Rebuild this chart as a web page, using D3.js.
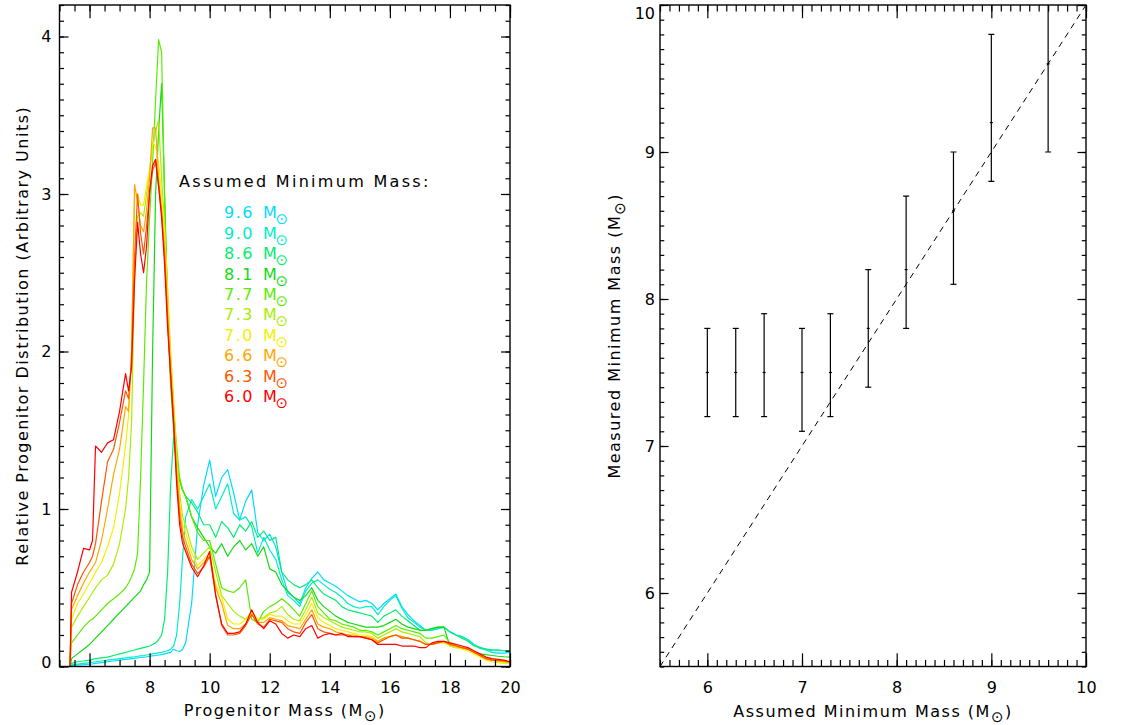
<!DOCTYPE html>
<html>
<head>
<meta charset="utf-8">
<title>Progenitor mass distributions</title>
<script src="https://cdn.jsdelivr.net/npm/d3@7"></script>
<style>
body { margin: 0; background: #fff; }
svg text { font-family: "DejaVu Sans", sans-serif; font-size: 16px; fill: #000; }
.title { letter-spacing: 1.5px; }
</style>
</head>
<body>
<svg id="chart" width="1134" height="725"></svg>
<script>

// progenitor mass grid (Msun) shared by all curves
var mass = [5.0, 5.35, 5.4, 5.6, 5.8, 6.0, 6.1, 6.2,
  6.4, 6.6, 6.8, 7.0, 7.2,
  7.3, 7.4, 7.5, 7.6, 7.7, 7.8, 7.9, 8.0, 8.1, 8.2,
  8.3, 8.4, 8.5, 8.6, 8.7, 8.8, 8.9, 9.0, 9.1, 9.2,
  9.4, 9.6, 9.8, 10.0, 10.2, 10.4, 10.6, 10.8, 11.0, 11.2,
  11.4, 11.6, 11.8, 12.0, 12.2, 12.4, 12.6, 12.8, 13.0, 13.2,
  13.4, 13.6, 13.8, 14.0, 14.2, 14.4, 14.6, 14.8, 15.0, 15.2,
  15.4, 15.6, 15.8, 16.0, 16.2, 16.4, 16.6, 16.8, 17.0, 17.2,
  17.4, 17.6, 17.8, 18.0, 18.2, 18.4, 18.6, 18.8, 19.0, 19.2,
  19.4, 19.6, 19.8, 20.0];

// assumed minimum masses, legend order (top to bottom)
var minMass = ["9.6", "9.0", "8.6", "8.1", "7.7", "7.3", "7.0", "6.6", "6.3", "6.0"];
var colors = ["#00dcff", "#00eec4", "#00ee70", "#10dc10", "#5aec00", "#aaee00", "#f4f000", "#ffa500", "#ff5500", "#ff0000"];

// relative progenitor distribution for each assumed minimum mass
var m96 = [0, 0, 0.005, 0.01, 0.012, 0.015, 0.017, 0.02,
  0.025, 0.03, 0.035, 0.04, 0.045,
  0.047, 0.05, 0.052, 0.055, 0.057, 0.06, 0.062, 0.065, 0.068, 0.07,
  0.073, 0.075, 0.08, 0.085, 0.09, 0.11, 0.10, 0.095, 0.11, 0.15,
  0.40, 0.90, 1.15, 1.31, 1.08, 1.20, 1.25, 1.10, 0.93, 1.05,
  1.12, 0.85, 0.80, 0.84, 0.76, 0.60, 0.47, 0.44, 0.40, 0.50,
  0.56, 0.60, 0.55, 0.53, 0.51, 0.48, 0.45, 0.43, 0.41, 0.42,
  0.40, 0.36, 0.40, 0.43, 0.46, 0.38, 0.33, 0.29, 0.26, 0.23,
  0.23, 0.24, 0.25, 0.22, 0.20, 0.19, 0.17, 0.14, 0.115, 0.105,
  0.09, 0.085, 0.085, 0.09];
var m90 = [0, 0, 0.01, 0.015, 0.02, 0.025, 0.028, 0.03,
  0.035, 0.04, 0.045, 0.05, 0.055,
  0.058, 0.06, 0.062, 0.065, 0.068, 0.07, 0.073, 0.076, 0.08, 0.083,
  0.087, 0.09, 0.095, 0.10, 0.11, 0.13, 0.20, 0.40, 0.70, 0.95,
  1.06, 1.00, 1.08, 1.16, 1.00, 1.08, 1.16, 0.97, 0.93, 0.95,
  0.89, 0.72, 0.82, 0.74, 0.68, 0.55, 0.45, 0.42, 0.38, 0.48,
  0.53, 0.55, 0.52, 0.49, 0.47, 0.44, 0.40, 0.38, 0.37, 0.38,
  0.38, 0.33, 0.38, 0.42, 0.45, 0.37, 0.31, 0.28, 0.25, 0.23,
  0.23, 0.24, 0.25, 0.22, 0.20, 0.19, 0.17, 0.14, 0.12, 0.11,
  0.10, 0.10, 0.10, 0.10];
var m86 = [0, 0, 0.02, 0.03, 0.035, 0.04, 0.045, 0.05,
  0.055, 0.06, 0.07, 0.08, 0.09,
  0.095, 0.10, 0.105, 0.11, 0.115, 0.12, 0.125, 0.13, 0.14, 0.15,
  0.17, 0.20, 0.30, 0.60, 1.15, 1.46, 1.30, 1.18, 1.12, 1.08,
  1.04, 0.98, 0.90, 0.90, 0.82, 0.92, 0.88, 0.82, 0.90, 0.86,
  0.92, 0.82, 0.86, 0.80, 0.82, 0.60, 0.55, 0.52, 0.50, 0.52,
  0.55, 0.50, 0.46, 0.44, 0.42, 0.38, 0.36, 0.35, 0.34, 0.33,
  0.32, 0.28, 0.32, 0.34, 0.36, 0.32, 0.29, 0.26, 0.23, 0.23,
  0.24, 0.25, 0.25, 0.22, 0.20, 0.18, 0.16, 0.13, 0.12, 0.11,
  0.105, 0.105, 0.10, 0.10];
var m81 = [0, 0, 0.05, 0.08, 0.11, 0.14, 0.16, 0.18,
  0.22, 0.26, 0.30, 0.34, 0.38,
  0.40, 0.42, 0.44, 0.46, 0.48, 0.52, 0.55, 0.60, 2.00, 3.00,
  3.40, 3.70, 3.00, 2.30, 1.80, 1.50, 1.25, 1.18, 1.12, 1.08,
  0.95, 0.88, 0.82, 0.76, 0.72, 0.78, 0.70, 0.76, 0.80, 0.74,
  0.78, 0.70, 0.76, 0.62, 0.60, 0.52, 0.48, 0.44, 0.42, 0.45,
  0.50, 0.42, 0.38, 0.35, 0.32, 0.30, 0.28, 0.27, 0.26, 0.25,
  0.25, 0.25, 0.26, 0.28, 0.30, 0.27, 0.25, 0.24, 0.23, 0.23,
  0.24, 0.25, 0.25, 0.13, 0.12, 0.12, 0.11, 0.09, 0.08, 0.075,
  0.07, 0.065, 0.062, 0.06];
var m77 = [0, 0, 0.15, 0.20, 0.25, 0.29, 0.30, 0.32,
  0.36, 0.40, 0.43, 0.46, 0.50,
  0.53, 0.57, 0.62, 0.72, 1.20, 1.80, 2.45, 2.85, 3.20, 3.60,
  3.98, 3.90, 2.95, 2.25, 1.80, 1.62, 1.40, 1.20, 1.12, 1.08,
  0.95, 0.85, 0.80, 0.80, 0.65, 0.50, 0.48, 0.47, 0.50, 0.55,
  0.30, 0.28, 0.35, 0.38, 0.40, 0.43, 0.40, 0.36, 0.32, 0.40,
  0.48, 0.38, 0.34, 0.30, 0.29, 0.27, 0.26, 0.25, 0.23, 0.23,
  0.22, 0.20, 0.22, 0.24, 0.26, 0.24, 0.23, 0.22, 0.21, 0.18,
  0.18, 0.19, 0.20, 0.15, 0.13, 0.12, 0.11, 0.09, 0.07, 0.05,
  0.04, 0.04, 0.035, 0.03];
var m73 = [0, 0, 0.25, 0.32, 0.38, 0.44, 0.47, 0.50,
  0.55, 0.58, 0.65, 0.78, 1.00,
  1.20, 1.55, 2.50, 2.86, 2.88, 2.86, 3.00, 3.15, 3.30, 3.40,
  3.47, 3.10, 2.80, 2.40, 2.00, 1.70, 1.35, 1.10, 0.95, 0.90,
  0.76, 0.68, 0.72, 0.76, 0.60, 0.45, 0.40, 0.35, 0.32, 0.30,
  0.35, 0.30, 0.31, 0.34, 0.35, 0.38, 0.33, 0.30, 0.29, 0.36,
  0.44, 0.34, 0.31, 0.29, 0.27, 0.25, 0.24, 0.23, 0.22, 0.22,
  0.21, 0.18, 0.20, 0.22, 0.24, 0.22, 0.21, 0.20, 0.19, 0.15,
  0.14, 0.15, 0.16, 0.14, 0.13, 0.12, 0.11, 0.09, 0.07, 0.05,
  0.04, 0.03, 0.03, 0.025];
var m70 = [0, 0, 0.30, 0.40, 0.46, 0.53, 0.56, 0.60,
  0.66, 0.76, 0.88, 1.10, 1.40,
  1.60, 2.00, 3.00, 3.00, 2.93, 2.93, 3.05, 3.15, 3.33, 3.30,
  3.20, 3.00, 2.75, 2.35, 1.95, 1.65, 1.30, 1.05, 0.90, 0.85,
  0.72, 0.64, 0.68, 0.72, 0.52, 0.44, 0.30, 0.27, 0.27, 0.30,
  0.34, 0.30, 0.30, 0.33, 0.32, 0.32, 0.29, 0.27, 0.27, 0.33,
  0.40, 0.31, 0.28, 0.26, 0.24, 0.23, 0.22, 0.21, 0.20, 0.20,
  0.19, 0.16, 0.18, 0.19, 0.20, 0.19, 0.18, 0.17, 0.16, 0.14,
  0.14, 0.15, 0.15, 0.13, 0.12, 0.11, 0.10, 0.08, 0.06, 0.04,
  0.03, 0.025, 0.02, 0.02];
var m66 = [0, 0, 0.36, 0.45, 0.53, 0.60, 0.63, 0.66,
  0.80, 1.00, 1.22, 1.38, 1.65,
  1.62, 2.00, 3.06, 2.95, 2.80, 2.76, 2.90, 3.10, 3.42, 3.42,
  3.10, 2.90, 2.65, 2.25, 1.90, 1.60, 1.25, 1.00, 0.86, 0.80,
  0.68, 0.62, 0.66, 0.70, 0.50, 0.40, 0.26, 0.24, 0.24, 0.27,
  0.33, 0.28, 0.28, 0.31, 0.30, 0.29, 0.26, 0.25, 0.24, 0.30,
  0.36, 0.27, 0.25, 0.24, 0.22, 0.21, 0.20, 0.20, 0.19, 0.19,
  0.18, 0.16, 0.18, 0.19, 0.20, 0.19, 0.18, 0.17, 0.16, 0.14,
  0.14, 0.15, 0.16, 0.14, 0.13, 0.12, 0.11, 0.09, 0.07, 0.05,
  0.04, 0.035, 0.03, 0.025];
var m63 = [0, 0, 0.40, 0.52, 0.60, 0.66, 0.70, 0.78,
  1.05, 1.30, 1.38, 1.55, 1.75,
  1.70, 1.95, 2.60, 3.00, 2.75, 2.62, 2.80, 3.00, 3.15, 3.20,
  3.05, 2.88, 2.60, 2.20, 1.85, 1.56, 1.20, 0.95, 0.82, 0.76,
  0.65, 0.59, 0.63, 0.70, 0.46, 0.26, 0.20, 0.20, 0.21, 0.26,
  0.33, 0.27, 0.25, 0.30, 0.29, 0.28, 0.24, 0.22, 0.21, 0.28,
  0.33, 0.24, 0.22, 0.21, 0.20, 0.20, 0.20, 0.19, 0.19, 0.18,
  0.17, 0.15, 0.17, 0.19, 0.20, 0.18, 0.18, 0.17, 0.16, 0.14,
  0.14, 0.15, 0.16, 0.14, 0.13, 0.12, 0.11, 0.09, 0.07, 0.05,
  0.04, 0.04, 0.035, 0.03];
var m60 = [0, 0, 0.47, 0.60, 0.75, 0.74, 0.80, 1.40,
  1.36, 1.42, 1.44, 1.62, 1.86,
  1.75, 1.90, 2.45, 2.82, 2.62, 2.50, 2.67, 3.02, 3.18, 3.22,
  3.05, 2.85, 2.55, 2.15, 1.85, 1.54, 1.16, 0.90, 0.78, 0.73,
  0.63, 0.57, 0.64, 0.73, 0.45, 0.27, 0.21, 0.21, 0.22, 0.27,
  0.36, 0.28, 0.24, 0.29, 0.27, 0.21, 0.18, 0.20, 0.19, 0.24,
  0.26, 0.18, 0.20, 0.21, 0.20, 0.21, 0.19, 0.19, 0.19, 0.18,
  0.17, 0.14, 0.14, 0.14, 0.14, 0.13, 0.13, 0.13, 0.12, 0.12,
  0.15, 0.16, 0.16, 0.15, 0.14, 0.13, 0.12, 0.10, 0.08, 0.06,
  0.05, 0.045, 0.04, 0.03];

// right panel: measured vs assumed minimum mass
var assumed  = [6.0, 6.3, 6.6, 7.0, 7.3, 7.7, 8.1, 8.6, 9.0, 9.6];
var measured = [7.5, 7.5, 7.5, 7.5, 7.5, 7.8, 8.2, 8.6, 9.2, 9.6];
var errLow   = [7.2, 7.2, 7.2, 7.1, 7.2, 7.4, 7.8, 8.1, 8.8, 9.0];
var errHigh  = [7.8, 7.8, 7.9, 7.8, 7.9, 8.2, 8.7, 9.0, 9.8, 10.2];
var oneToOne = [5.5, 10];

var curves = [m96, m90, m86, m81, m77, m73, m70, m66, m63, m60];
curves.forEach(function(c, i) {
  if (c.length != mass.length) console.warn("series " + minMass[i] + " has " + c.length + " points");
});

var svg = d3.select("#chart");

// box with inward ticks on all four sides, IDL style
function box(g, x, y, o) {
  var x0 = x.range()[0], x1 = x.range()[1], y0 = y.range()[0], y1 = y.range()[1];
  var xl = (y0 - y1) * 0.02, yl = (x1 - x0) * 0.02;

  var bottom = g.append("g").attr("transform", "translate(0," + y0 + ")");
  bottom.call(d3.axisBottom(x).tickValues(o.xMinor).tickSize(-xl / 2).tickFormat(""));
  bottom.append("g").call(d3.axisBottom(x).tickValues(o.xMajor).tickSize(-xl).tickPadding(15).tickFormat(d3.format("d")));

  var top = g.append("g").attr("transform", "translate(0," + y1 + ")");
  top.call(d3.axisTop(x).tickValues(o.xMinor).tickSize(-xl / 2).tickFormat(""));
  top.append("g").call(d3.axisTop(x).tickValues(o.xMajor).tickSize(-xl).tickFormat(""));

  var left = g.append("g").attr("transform", "translate(" + x0 + ",0)");
  left.call(d3.axisLeft(y).tickValues(o.yMinor).tickSize(-yl / 2).tickFormat(""));
  var yax = left.append("g").call(d3.axisLeft(y).tickValues(o.yMajor).tickSize(-yl).tickPadding(o.yPad).tickFormat(d3.format("d")));
  // keep the end labels inside the frame height, as the original does
  yax.selectAll(".tick text").attr("y", function(d) {
    var p = y(d);
    if (p < y1 + 8) return y1 + 8 - p;
    if (p > y0 - 4) return y0 - 4 - p;
    return 0;
  });

  var right = g.append("g").attr("transform", "translate(" + x1 + ",0)");
  right.call(d3.axisRight(y).tickValues(o.yMinor).tickSize(-yl / 2).tickFormat(""));
  right.append("g").call(d3.axisRight(y).tickValues(o.yMajor).tickSize(-yl).tickFormat(""));

  g.selectAll(".domain").remove();
  g.selectAll(".tick line").attr("stroke", "#000").attr("stroke-width", 1.2);
  g.selectAll(".tick text").style("font-family", "DejaVu Sans").style("font-size", "16px");

  g.append("rect")
    .attr("x", x0).attr("y", y1)
    .attr("width", x1 - x0).attr("height", y0 - y1)
    .attr("fill", "none").attr("stroke", "#000").attr("stroke-width", 1.4);
}

// axis title ending in (M_sun)
function solarLabel(sel, before) {
  sel.append("tspan").text(before + "(M");
  sel.append("tspan").attr("dy", 5).style("font-size", "15px").text("\u2299");
  sel.append("tspan").attr("dy", -5).text(")");
}

// ---------- left panel ----------
var xL = d3.scaleLinear().domain([5, 20]).range([59.5, 510]);
var yL = d3.scaleLinear().domain([0, 4.2]).range([666.5, 5]);

var gL = svg.append("g");
svg.append("clipPath").attr("id", "clipL").append("rect")
  .attr("x", 59.5).attr("y", 5).attr("width", 450.5).attr("height", 661.5);

var line = d3.line().x(function(d) { return xL(d[0]); }).y(function(d) { return yL(d[1]); });

gL.append("g").attr("clip-path", "url(#clipL)")
  .selectAll("path").data(curves).join("path")
  .attr("d", function(c) { return line(c.map(function(v, i) { return [mass[i], v]; })); })
  .attr("fill", "none")
  .attr("stroke", function(c, i) { return colors[i]; })
  .attr("stroke-width", 1.2)
  .attr("stroke-linejoin", "round");

box(gL, xL, yL, {
  xMajor: d3.range(6, 20.1, 2),
  xMinor: d3.range(5, 20.01, 0.5),
  yMajor: [0, 1, 2, 3, 4],
  yMinor: d3.range(0, 4.21, 0.1),
  yPad: 8
});

gL.append("text")
  .style("letter-spacing", "2.3px")
  .attr("x", 179).attr("y", 187).text("Assumed Minimum Mass:");

var leg = gL.selectAll("g.leg").data(minMass).join("g").attr("class", "leg")
  .attr("transform", function(d, i) { return "translate(224," + (218.3 + i * 20.4) + ")"; })
  .style("fill", function(d, i) { return colors[i]; });
leg.append("text").attr("class", "title").attr("x", 0).style("fill", "inherit").text(function(d) { return d; });
leg.append("text").attr("x", 39).style("fill", "inherit").text("M");
leg.append("text").attr("x", 51.5).attr("y", 6).style("fill", "inherit").style("font-size", "15px").text("\u2299");

gL.append("text").attr("class", "title")
  .attr("text-anchor", "middle")
  .attr("x", xL(12.5)).attr("y", 716)
  .call(solarLabel, "Progenitor Mass ");

gL.append("text").attr("class", "title")
  .attr("text-anchor", "middle")
  .attr("transform", "translate(28," + yL(2.1) + ") rotate(-90)")
  .text("Relative Progenitor Distribution (Arbitrary Units)");

// ---------- right panel ----------
var xR = d3.scaleLinear().domain([5.5, 10]).range([660, 1086]);
var yR = d3.scaleLinear().domain([5.5, 10]).range([666.5, 5]);

var gR = svg.append("g");
svg.append("clipPath").attr("id", "clipR").append("rect")
  .attr("x", 660).attr("y", 5).attr("width", 426).attr("height", 661.5);

var plotR = gR.append("g").attr("clip-path", "url(#clipR)");

plotR.append("path")
  .attr("d", d3.line().x(function(d) { return xR(d); }).y(function(d) { return yR(d); })(oneToOne))
  .attr("fill", "none").attr("stroke", "#000").attr("stroke-width", 1)
  .attr("stroke-dasharray", "6,5");

var bars = plotR.selectAll("g.bar").data(assumed).join("g").attr("class", "bar");
bars.append("line")
  .attr("x1", function(d) { return xR(d); }).attr("x2", function(d) { return xR(d); })
  .attr("y1", function(d, i) { return yR(errLow[i]); })
  .attr("y2", function(d, i) { return yR(errHigh[i]); });
bars.append("line")
  .attr("x1", function(d) { return xR(d) - 3; }).attr("x2", function(d) { return xR(d) + 3; })
  .attr("y1", function(d, i) { return yR(errLow[i]); })
  .attr("y2", function(d, i) { return yR(errLow[i]); });
bars.append("line")
  .attr("x1", function(d) { return xR(d) - 3; }).attr("x2", function(d) { return xR(d) + 3; })
  .attr("y1", function(d, i) { return yR(errHigh[i]); })
  .attr("y2", function(d, i) { return yR(errHigh[i]); });
bars.append("line")
  .attr("x1", function(d) { return xR(d) - 1.5; }).attr("x2", function(d) { return xR(d) + 1.5; })
  .attr("y1", function(d, i) { return yR(measured[i]); })
  .attr("y2", function(d, i) { return yR(measured[i]); });
bars.selectAll("line").attr("stroke", "#000").attr("stroke-width", 1.2);

box(gR, xR, yR, {
  xMajor: [6, 7, 8, 9, 10],
  xMinor: d3.range(5.5, 10.01, 0.1),
  yMajor: [6, 7, 8, 9, 10],
  yMinor: d3.range(5.5, 10.01, 0.1),
  yPad: 5
});

gR.append("text").attr("class", "title")
  .attr("text-anchor", "middle")
  .attr("x", xR(7.75)).attr("y", 717)
  .call(solarLabel, "Assumed Minimum Mass ");

gR.append("text").attr("class", "title")
  .attr("text-anchor", "middle")
  .attr("transform", "translate(620," + yR(7.75) + ") rotate(-90)")
  .call(solarLabel, "Measured Minimum Mass ");

</script>
</body>
</html>
